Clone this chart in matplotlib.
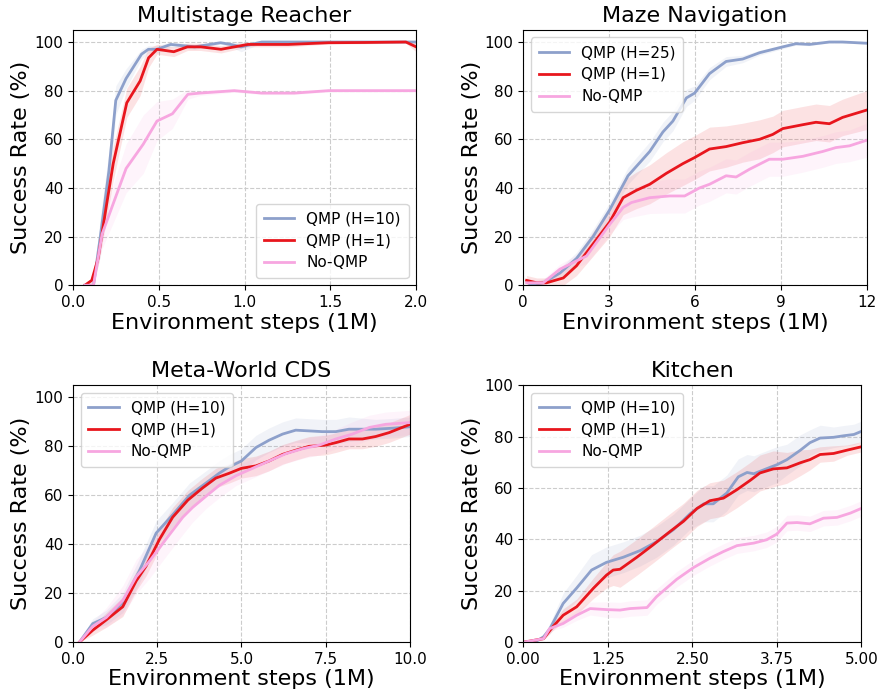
import matplotlib
matplotlib.use("Agg")
import matplotlib.pyplot as plt
import numpy as np

C_BLUE = "#8da0cb"
C_RED = "#e8161d"
C_PINK = "#f7a6e0"

# ---------------- Multistage Reacher ----------------
mr_blue_x = [0.07, 0.12, 0.16, 0.21, 0.25, 0.31, 0.40, 0.44, 0.49, 0.57, 0.71, 0.86, 0.92, 0.98, 1.10, 1.3, 1.5, 1.7, 1.9, 2.0]
mr_blue_y = [0, 0, 20, 47, 76, 85, 95, 97, 97, 99, 98, 99.7, 99, 98, 100, 100, 100, 100, 100, 100]
mr_blue_s = [0, 1, 8, 8, 6, 4, 2, 1.5, 1.5, 1, 1, 0.5, 1, 2, 0.5, 0.3, 0.3, 0.3, 0.3, 0.3]
mr_red_x = [0.07, 0.11, 0.147, 0.196, 0.235, 0.314, 0.392, 0.441, 0.49, 0.588, 0.667, 0.745, 0.863, 1.02, 1.255, 1.49, 1.7, 1.94, 2.0]
mr_red_y = [0, 2, 11, 33, 50, 75, 84, 93.5, 97, 96, 98, 98, 97, 99, 99, 99.7, 99.8, 100, 98]
mr_red_s = [0, 1, 3, 6, 7, 6, 6, 4, 2, 2, 1.5, 1.5, 1.5, 1, 1, 0.5, 0.5, 0.5, 2]
mr_pink_x = [0.07, 0.12, 0.17, 0.31, 0.41, 0.49, 0.58, 0.67, 0.74, 0.86, 0.94, 1.1, 1.29, 1.49, 1.7, 2.0]
mr_pink_y = [0, 0, 21, 48, 58, 67.5, 70.5, 78.5, 79, 79.6, 80, 79, 79, 80, 80, 80]
mr_pink_s = [0, 1, 6, 10, 12, 8, 6, 2, 1, 0.8, 0.6, 0.6, 0.6, 0.5, 0.5, 0.5]

# ---------------- Maze Navigation ----------------
mz_blue_x = [0.23, 0.70, 1.28, 1.86, 2.44, 3.02, 3.66, 4.42, 4.88, 5.23, 5.70, 5.99, 6.51, 7.09, 7.67, 8.26, 9.07, 9.53, 10.0, 10.70, 11.16, 12.0]
mz_blue_y = [0, 1, 5, 11, 20, 31, 45, 55, 63, 67.5, 77, 79, 87, 92, 93, 95.6, 98, 99.3, 99, 100, 100, 99.5]
mz_blue_s = [1, 1.5, 2, 2.5, 3, 3, 3.5, 4, 4, 4, 3.5, 3, 2.5, 2, 1.5, 1, 0.8, 0.6, 0.5, 0.4, 0.4, 0.4]
mz_red_x = [0.116, 0.47, 0.81, 1.40, 1.86, 2.44, 3.02, 3.49, 3.95, 4.42, 5.0, 5.58, 5.99, 6.51, 7.09, 7.67, 8.26, 8.72, 9.07, 9.77, 10.23, 10.70, 11.16, 12.0]
mz_red_y = [2, 1, 1, 3, 8, 17, 26, 36, 39, 41.5, 46, 50, 52.5, 56, 57, 58.6, 60, 62, 64.4, 66, 67, 66.4, 69, 72]
mz_red_s = [2, 2, 2, 3, 4, 5, 6, 7, 7.5, 8, 8.5, 9, 9, 9, 8.5, 8, 8, 7.5, 7.5, 7.5, 7.5, 7.5, 7.5, 8]
mz_pink_x = [0.116, 0.70, 1.28, 1.86, 2.21, 3.02, 3.49, 3.78, 4.42, 5.12, 5.64, 6.16, 6.51, 7.09, 7.44, 7.91, 8.60, 9.07, 9.77, 10.47, 10.93, 11.40, 12.0]
mz_pink_y = [1, 1, 6.6, 10, 12, 25, 32, 34, 36, 36.7, 36.7, 40, 41.5, 45, 44.5, 47.7, 51.8, 51.8, 53, 55, 56.6, 57.3, 59.6]
mz_pink_s = [1.5, 1.5, 2, 2.5, 3, 4, 5, 6, 6.5, 7, 7, 7, 7, 7, 7, 7, 7, 7, 6.5, 6.5, 6.5, 6.5, 7]

# ---------------- Meta-World CDS ----------------
mw_blue_x = [0.2, 0.59, 0.99, 1.48, 1.97, 2.47, 2.96, 3.46, 3.95, 4.34, 4.64, 5.0, 5.43, 5.82, 6.22, 6.61, 7.01, 7.40, 7.80, 8.19, 8.98, 9.48, 10.0]
mw_blue_y = [0, 7.5, 10, 16, 29, 44.5, 52, 60, 65, 69, 71.6, 74, 79.5, 82.5, 85, 86.6, 86.3, 86, 86, 87, 87, 87.4, 88]
mw_blue_s = [0.5, 2, 3, 4, 5, 5, 5, 5, 5, 5, 5, 5, 5, 5, 5, 5, 5, 5, 5, 5, 4, 4, 4]
mw_red_x = [0.2, 0.59, 0.99, 1.48, 1.88, 2.17, 2.57, 2.96, 3.41, 3.85, 4.24, 4.64, 5.0, 5.43, 5.82, 6.22, 6.61, 7.01, 7.50, 7.80, 8.19, 8.59, 8.98, 9.38, 10.0]
mw_red_y = [0, 4.8, 9, 14.4, 25, 31, 42, 51, 58, 63, 67, 69, 71, 72, 74, 76.7, 78.4, 80, 80.5, 81.5, 83, 83, 84, 85.6, 89]
mw_red_s = [0.5, 2, 3, 4, 4, 4, 4, 4, 4, 4, 4, 4, 4, 4, 4, 4, 4, 4, 4, 4, 4, 4, 4, 4, 4]
mw_pink_x = [0.2, 0.59, 0.99, 1.48, 1.88, 2.27, 2.76, 3.26, 3.55, 3.95, 4.34, 4.84, 5.33, 5.82, 6.32, 6.81, 7.31, 7.80, 8.29, 8.79, 9.28, 10.0]
mw_pink_y = [0, 6.4, 10, 17, 26.7, 33, 42, 51, 55, 59.6, 64, 68, 71, 74, 77, 79, 80.5, 83, 85, 87.7, 89, 89.7]
mw_pink_s = [0.5, 2, 4, 6, 7, 7, 7, 7, 6, 5, 5, 4, 4, 4, 4, 4, 4, 4, 5, 5, 5, 5]

# ---------------- Kitchen ----------------
kt_blue_x = [0.025, 0.2, 0.3, 0.39, 0.59, 0.79, 1.01, 1.23, 1.48, 1.73, 1.97, 2.22, 2.47, 2.67, 2.81, 3.01, 3.18, 3.31, 3.41, 3.65, 3.75, 3.90, 4.10, 4.24, 4.39, 4.59, 4.74, 4.89, 5.0]
kt_blue_y = [0, 0.4, 2, 5, 15, 21, 28, 31, 33, 35.6, 39, 43.7, 50, 53.8, 53.8, 58, 64.3, 66, 65.5, 68, 69, 71, 74.7, 77.6, 79.4, 79.7, 80.3, 80.8, 82]
kt_blue_s = [0, 0.5, 1, 2, 4, 5, 6, 6, 6, 6, 6, 6, 6, 7, 7, 7, 7, 7, 7, 7, 7, 6, 6, 5, 5, 4, 4, 4, 4]
kt_red_x = [0.025, 0.3, 0.44, 0.59, 0.79, 1.04, 1.23, 1.33, 1.43, 1.68, 1.92, 2.17, 2.37, 2.57, 2.76, 2.96, 3.16, 3.36, 3.50, 3.70, 3.90, 4.10, 4.24, 4.39, 4.59, 4.79, 5.0]
kt_red_y = [0, 1.3, 6, 10.4, 13.7, 21, 26, 28, 28.3, 33, 37.8, 43, 47, 52, 55, 56, 59.3, 63, 65.8, 67.4, 67.8, 69.8, 71, 73, 73.4, 74.7, 76]
kt_red_s = [0, 0.5, 1.5, 2.5, 3, 4, 5, 6, 7, 7, 7, 7, 7, 7, 7, 7, 7, 7, 7, 7, 6, 5, 4, 3, 3, 2, 2]
kt_pink_x = [0.025, 0.3, 0.39, 0.59, 0.79, 0.99, 1.23, 1.43, 1.58, 1.83, 1.97, 2.27, 2.52, 2.76, 2.96, 3.16, 3.41, 3.60, 3.75, 3.90, 4.05, 4.24, 4.44, 4.64, 4.84, 5.0]
kt_pink_y = [0, 1.3, 5.2, 7.2, 10.4, 13, 12.6, 12.4, 13, 13.4, 17.6, 24.4, 29, 32.6, 35.2, 37.5, 38.5, 39.8, 42, 46.3, 46.5, 46, 48.2, 48.5, 50.2, 52]
kt_pink_s = [0, 0.5, 1, 1.5, 2, 2.5, 3, 3, 3, 3, 3, 3, 3, 3, 3, 3, 3, 3, 3, 3, 3, 3, 3, 3, 3, 3]

panels = [
    dict(title="Multistage Reacher", xlim=(0, 2.0), ylim=(0, 105),
         xticks=[0.0, 0.5, 1.0, 1.5, 2.0], xtl=["0.0", "0.5", "1.0", "1.5", "2.0"],
         yticks=[0, 20, 40, 60, 80, 100],
         series=[("QMP (H=10)", C_BLUE, mr_blue_x, mr_blue_y, mr_blue_s),
                 ("QMP (H=1)", C_RED, mr_red_x, mr_red_y, mr_red_s),
                 ("No-QMP", C_PINK, mr_pink_x, mr_pink_y, mr_pink_s)],
         loc="lower right", pos=[0.083, 0.589, 0.391, 0.368]),
    dict(title="Maze Navigation", xlim=(0, 12), ylim=(0, 105),
         xticks=[0, 3, 6, 9, 12], xtl=["0", "3", "6", "9", "12"],
         yticks=[0, 20, 40, 60, 80, 100],
         series=[("QMP (H=25)", C_BLUE, mz_blue_x, mz_blue_y, mz_blue_s),
                 ("QMP (H=1)", C_RED, mz_red_x, mz_red_y, mz_red_s),
                 ("No-QMP", C_PINK, mz_pink_x, mz_pink_y, mz_pink_s)],
         loc="upper left", pos=[0.596, 0.589, 0.391, 0.368]),
    dict(title="Meta-World CDS", xlim=(0, 10.0), ylim=(0, 105),
         xticks=[0.0, 2.5, 5.0, 7.5, 10.0], xtl=["0.0", "2.5", "5.0", "7.5", "10.0"],
         yticks=[0, 20, 40, 60, 80, 100],
         series=[("QMP (H=10)", C_BLUE, mw_blue_x, mw_blue_y, mw_blue_s),
                 ("QMP (H=1)", C_RED, mw_red_x, mw_red_y, mw_red_s),
                 ("No-QMP", C_PINK, mw_pink_x, mw_pink_y, mw_pink_s)],
         loc="upper left", pos=[0.083, 0.075, 0.384, 0.370]),
    dict(title="Kitchen", xlim=(0, 5.0), ylim=(0, 100),
         xticks=[0.0, 1.25, 2.5, 3.75, 5.0], xtl=["0.00", "1.25", "2.50", "3.75", "5.00"],
         yticks=[0, 20, 40, 60, 80, 100],
         series=[("QMP (H=10)", C_BLUE, kt_blue_x, kt_blue_y, kt_blue_s),
                 ("QMP (H=1)", C_RED, kt_red_x, kt_red_y, kt_red_s),
                 ("No-QMP", C_PINK, kt_pink_x, kt_pink_y, kt_pink_s)],
         loc="upper left", pos=[0.596, 0.075, 0.385, 0.370]),
]

fig = plt.figure(figsize=(8.78, 6.94), dpi=100)
for p in panels:
    ax = fig.add_axes(p["pos"])
    for label, color, xs, ys, ss in p["series"]:
        xs = np.asarray(xs, float)
        ys = np.asarray(ys, float)
        ss = np.asarray(ss, float)
        ax.fill_between(xs, np.clip(ys - ss, 0, None), ys + ss, color=color, alpha=0.12, linewidth=0)
        ax.plot(xs, ys, color=color, linewidth=2, label=label)
    ax.set_xlim(*p["xlim"])
    ax.set_ylim(*p["ylim"])
    ax.set_xticks(p["xticks"])
    ax.set_xticklabels(p["xtl"])
    ax.set_yticks(p["yticks"])
    ax.tick_params(labelsize=11)
    ax.grid(True, linestyle="--", color="#cccccc", linewidth=0.8)
    ax.set_axisbelow(True)
    ax.set_title(p["title"], fontsize=16)
    ax.set_xlabel("Environment steps (1M)", fontsize=16, labelpad=2)
    ax.set_ylabel("Success Rate (%)", fontsize=16, labelpad=2)
    leg = ax.legend(loc=p["loc"], fontsize=11, handlelength=2.0, borderpad=0.5, labelspacing=0.45)

fig.savefig("out.png", dpi=100)
